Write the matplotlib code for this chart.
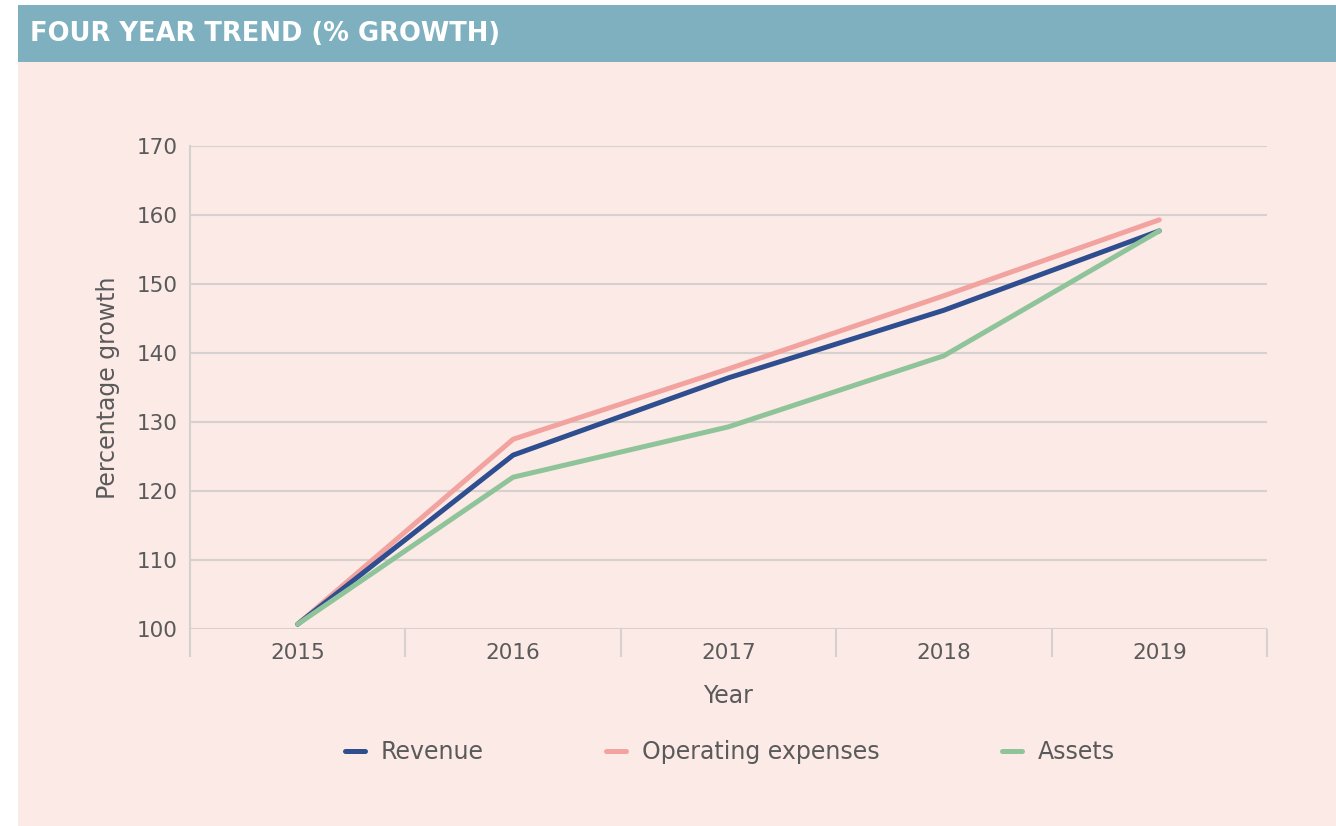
import matplotlib.pyplot as plt
from matplotlib.patches import Rectangle

# values
years = ['2015', '2016', '2017', '2018', '2019']
revenue = [100.7, 125.2, 136.4, 146.2, 157.7]
opex = [100.7, 127.5, 137.7, 148.3, 159.3]
assets = [100.7, 122.0, 129.3, 139.6, 157.7]

plt.rcParams['font.family'] = ['DejaVu Sans']

teal = '#7EB0BF'
pink = '#FBEAE6'
grid = '#D6D1CE'
txt = '#5A5A5A'
fs = 15.5      # tick labels
lfs = 17       # axis labels and legend

fig = plt.figure(figsize=(13.36, 8.26), dpi=100)
fig.patch.set_facecolor('white')

# header band and panel
fig.patches.append(Rectangle((18 / 1336, 0), 1, 1 - 62 / 826, transform=fig.transFigure,
                             facecolor=pink, edgecolor='none', zorder=-2))
fig.patches.append(Rectangle((18 / 1336, 1 - 62 / 826), 1, 57 / 826, transform=fig.transFigure,
                             facecolor=teal, edgecolor='none', zorder=-2))
fig.text(30 / 1336, 1 - 34 / 826, 'FOUR YEAR TREND (% GROWTH)', color='white',
         fontsize=18.5, fontweight='bold', va='center', ha='left')

ax = fig.add_axes([190 / 1336, 1 - 629 / 826, 1077 / 1336, 483 / 826])
ax.set_facecolor('none')

x = range(len(years))
ax.plot(x, revenue, color='#2E4E8F', lw=3.6, solid_capstyle='round', label='Revenue', zorder=3)
ax.plot(x, opex, color='#F2A3A0', lw=3.6, solid_capstyle='round', label='Operating expenses', zorder=2)
ax.plot(x, assets, color='#8FC49A', lw=3.6, solid_capstyle='round', label='Assets', zorder=4)

ax.set_xlim(-0.5, 4.5)
ax.set_ylim(100, 170)
ax.set_yticks(range(100, 171, 10))
ax.set_xticks(list(x))
ax.set_xticklabels(years)
ax.set_xticks([i - 0.5 for i in range(6)], minor=True)
ax.tick_params(axis='x', which='major', length=0, pad=10, labelsize=fs, labelcolor=txt)
ax.tick_params(axis='x', which='minor', length=20, width=1.5, color=grid, direction='out')
ax.tick_params(axis='y', length=0, pad=9, labelsize=fs, labelcolor=txt)
ax.grid(axis='y', color=grid, lw=1.5)
ax.set_axisbelow(True)

for s in ['top', 'right', 'bottom']:
    ax.spines[s].set_visible(False)
ax.spines['left'].set_color(grid)
ax.spines['left'].set_linewidth(1.5)

ax.set_xlabel('Year', fontsize=lfs, color=txt, labelpad=15)
ax.set_ylabel('Percentage growth', fontsize=lfs, color=txt, labelpad=12)

fig.legend(loc='center', bbox_to_anchor=(730 / 1336, 1 - 752 / 826), ncol=3, frameon=False,
           fontsize=lfs, labelcolor=txt, handlelength=0.85, handletextpad=0.65, columnspacing=5.2)

fig.savefig('out.png', dpi=100)
